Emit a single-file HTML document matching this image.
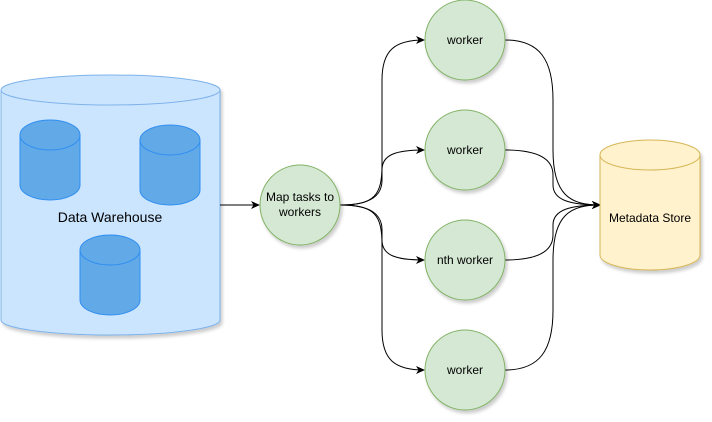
<!DOCTYPE html>
<html><head><meta charset="utf-8"><style>
html,body{margin:0;padding:0;background:#fff;}
svg{display:block;}
text{font-family:"Liberation Sans",Arial,sans-serif;font-size:12px;fill:#000;}
</style></head><body>
<svg width="712" height="422" viewBox="0 0 712 422" xmlns="http://www.w3.org/2000/svg">
<defs>
<marker id="a" markerWidth="10" markerHeight="10" refX="8" refY="5" orient="auto" markerUnits="userSpaceOnUse">
<path d="M0,1 L9,5 L0,9 L2.5,5 Z" fill="#000"/>
</marker>
<filter id="sh" x="-10%" y="-10%" width="130%" height="130%"><feDropShadow dx="2" dy="3" stdDeviation="1.5" flood-color="#000" flood-opacity="0.2"/></filter>
</defs>
<g filter="url(#sh)">
<path d="M1,90 A109.5,15 0 0 1 220,90 L220,320 A109.5,15 0 0 1 1,320 Z" fill="#cce5ff" stroke="#7eb3ea" stroke-width="1"/>
<path d="M1,90 A109.5,15 0 0 0 220,90" fill="none" stroke="#7eb3ea"/>
</g>
<g fill="#62a9e8" stroke="#2f8ef0">
<path d="M20,135 A30,15 0 0 1 80,135 L80,185 A30,15 0 0 1 20,185 Z"/>
<path d="M20,135 A30,15 0 0 0 80,135" fill="none"/>
<path d="M140,140 A30,15 0 0 1 200,140 L200,190 A30,15 0 0 1 140,190 Z"/>
<path d="M140,140 A30,15 0 0 0 200,140" fill="none"/>
<path d="M80,250 A30,15 0 0 1 140,250 L140,300 A30,15 0 0 1 80,300 Z"/>
<path d="M80,250 A30,15 0 0 0 140,250" fill="none"/>
</g>
<text x="110" y="222" text-anchor="middle" style="font-size:14px">Data Warehouse</text>
<path d="M220,205 L259,205" stroke="#000" fill="none" marker-end="url(#a)"/>
<g stroke="#000" fill="none" stroke-width="1" marker-end="url(#a)">
<path d="M340,205 C375,205 382,195 382,165 L382,80 C382,50 395,40 424,40"/>
<path d="M340,205 C372,205 382,195 382,180 L382,170 C382,155 395,150 424,150"/>
<path d="M340,205 C372,205 382,215 382,230 L382,240 C382,255 395,260 424,260"/>
<path d="M340,205 C375,205 382,215 382,245 L382,330 C382,360 395,370 424,370"/>
<path d="M505,40 C540,40 553,60 553,100 L553,150 C553,195 570,205 600,205"/>
<path d="M505,150 C540,150 553,160 553,175 L553,185 C553,200 570,205 600,205"/>
<path d="M505,260 C540,260 553,250 553,235 L553,225 C553,210 570,205 600,205"/>
<path d="M505,370 C540,370 553,350 553,310 L553,260 C553,215 570,205 600,205"/>
</g>
<g fill="#d5e8d4" stroke="#82b366" filter="url(#sh)">
<circle cx="300" cy="205" r="40"/>
<circle cx="465" cy="40" r="40"/>
<circle cx="465" cy="150" r="40"/>
<circle cx="465" cy="260" r="40"/>
<circle cx="465" cy="370" r="40"/>
</g>
<text x="300" y="201" text-anchor="middle">Map tasks to</text>
<text x="300" y="216" text-anchor="middle">workers</text>
<text x="465" y="44" text-anchor="middle">worker</text>
<text x="465" y="154" text-anchor="middle">worker</text>
<text x="465" y="264" text-anchor="middle">nth worker</text>
<text x="465" y="374" text-anchor="middle">worker</text>
<g filter="url(#sh)">
<path d="M600,155 A50,15 0 0 1 700,155 L700,255 A50,15 0 0 1 600,255 Z" fill="#fff2cc" stroke="#d6b656"/>
<path d="M600,155 A50,15 0 0 0 700,155" fill="none" stroke="#d6b656"/>
</g>
<text x="650" y="222" text-anchor="middle">Metadata Store</text>
</svg>
</body></html>
